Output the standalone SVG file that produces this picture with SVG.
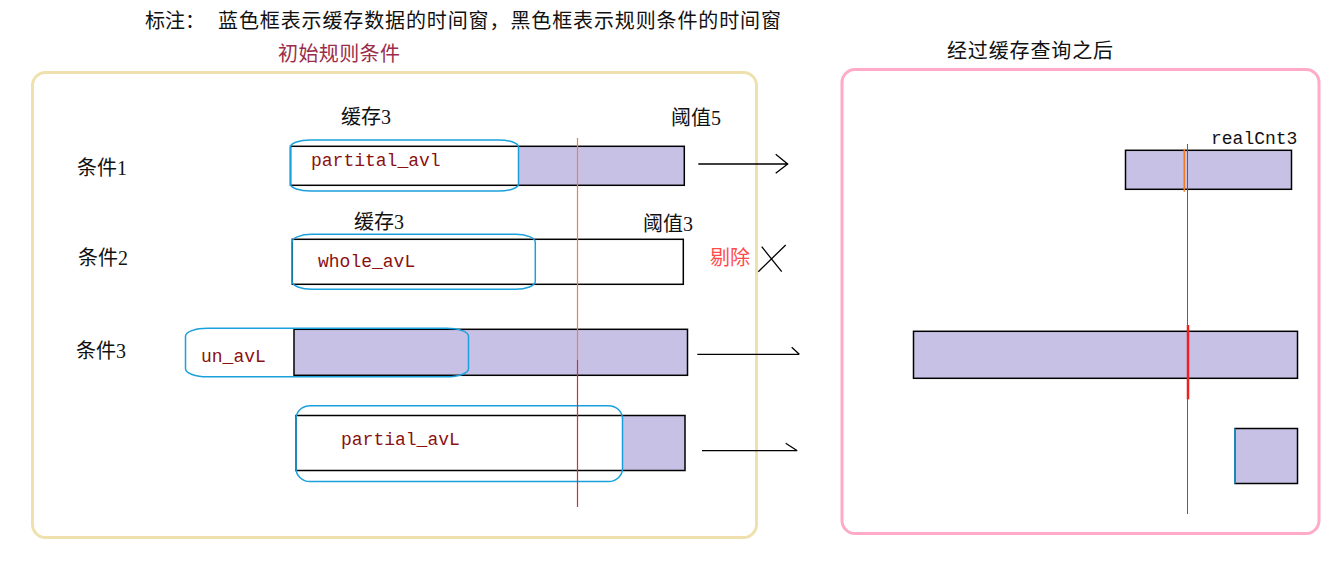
<svg xmlns="http://www.w3.org/2000/svg" width="1330" height="574" viewBox="0 0 1330 574">
<style>
.cjk{font-family:"Liberation Serif","Noto Sans CJK SC",serif;font-size:20px;fill:#111}
.mono{font-family:"Liberation Mono",monospace;font-size:18px;fill:#8B1010}
.bar{stroke:#000;stroke-width:1.5}
.fill{fill:#C8C1E6}
.cache{fill:none;stroke:#1AA0DC;stroke-width:1.5}
.conn{stroke:#000;stroke-width:1.3;fill:none}
</style>
<rect width="1330" height="574" fill="#fff"/>
<g id="legend">
<text class="cjk" x="145" y="28">标注：</text>
<text class="cjk" x="218" y="28" textLength="563" lengthAdjust="spacing">蓝色框表示缓存数据的时间窗，黑色框表示规则条件的时间窗</text>
</g>
<g id="initial-frame">
<rect x="32.5" y="72.5" width="724" height="465" rx="13" fill="none" stroke="#EFE1AE" stroke-width="3"/>
<text class="cjk" x="278" y="61" style="fill:#9B2D4A" textLength="122" lengthAdjust="spacing">初始规则条件</text>
</g>
<g id="after-frame">
<rect x="842" y="69.5" width="477" height="464" rx="13" fill="none" stroke="#FFAAC8" stroke-width="3"/>
<text class="cjk" x="947" y="58" textLength="166" lengthAdjust="spacing">经过缓存查询之后</text>
</g>
<g id="cond1">
<text class="cjk" x="77" y="175">条件1</text>
<text class="cjk" x="341" y="124">缓存3</text>
<text class="cjk" x="671" y="125">阈值5</text>
<rect class="fill" x="518.3" y="146.3" width="166" height="39"/>
<rect x="290.5" y="146.3" width="393.8" height="39" fill="none" class="bar"/>
<rect class="cache" x="290.5" y="140" width="228" height="51" rx="20" ry="7"/>
<text class="mono" x="311" y="166">partital_avl</text>
</g>
<g id="cond2">
<text class="cjk" x="78" y="265">条件2</text>
<text class="cjk" x="354" y="229">缓存3</text>
<text class="cjk" x="643" y="231">阈值3</text>
<rect x="292.3" y="239.3" width="391" height="45" fill="none" class="bar"/>
<rect class="cache" x="292" y="234.3" width="243.3" height="55" rx="20" ry="8"/>
<text class="mono" x="318" y="267">whole_avL</text>
<text class="cjk" x="710" y="265" style="fill:#FF4B4B">剔除</text>
</g>
<g id="cond3">
<text class="cjk" x="76" y="358">条件3</text>
<rect x="294" y="329.3" width="393.5" height="46" class="fill bar"/>
<rect class="cache" x="185.5" y="328.3" width="283" height="48.5" rx="22" ry="8"/>
<text class="mono" x="201" y="361.5">un_avL</text>
</g>
<g id="cond4">
<rect class="fill" x="622.5" y="415.5" width="62.5" height="55"/>
<rect x="296" y="415.5" width="389" height="55" fill="none" class="bar"/>
<rect class="cache" x="296" y="405.7" width="326.5" height="75.8" rx="14" ry="13"/>
<text class="mono" x="341" y="445">partial_avL</text>
</g>
<g id="time-line-left">
<line x1="577.5" y1="138" x2="577.5" y2="360" stroke="#F08040" stroke-width="1.2"/>
<line x1="577.5" y1="360" x2="577.5" y2="507" stroke="#E02828" stroke-width="1.2"/>
</g>
<g id="result1">
<rect x="1125.5" y="150.3" width="166" height="39" class="fill bar"/>
<text x="1211" y="144" style="font-family:'Liberation Mono',monospace;font-size:18px;fill:#111">realCnt3</text>
<line x1="1184.3" y1="149" x2="1184.3" y2="191.7" stroke="#F07A20" stroke-width="1.6"/>
</g>
<g id="result3">
<rect x="913.5" y="331.3" width="384" height="47" class="fill bar"/>
</g>
<g id="result4">
<rect x="1235" y="428.5" width="62.5" height="55" class="fill bar"/>
<line x1="1235" y1="428.5" x2="1235" y2="483.5" stroke="#1AA0DC" stroke-width="1.5"/>
</g>
<g id="time-line-right">
<line x1="1187.5" y1="144" x2="1187.5" y2="514" stroke="#D03030" stroke-width="1"/>
<line x1="1188" y1="325" x2="1188" y2="399.3" stroke="#EE2020" stroke-width="2.5"/>
</g>
<g id="connectors">
<path class="conn" d="M698.3 164H787.7M775.7 154.3L787.7 164L775.7 173.3"/>
<path class="conn" d="M758.3 271.7L785.7 245M761.7 246.7L781.7 271.7"/>
<path class="conn" d="M697.3 354.3H799.3M791.7 347.3L799.3 354.3"/>
<path class="conn" d="M702 450.7H797.3M785.7 443.3L797.3 450.7"/>
</g>
</svg>
